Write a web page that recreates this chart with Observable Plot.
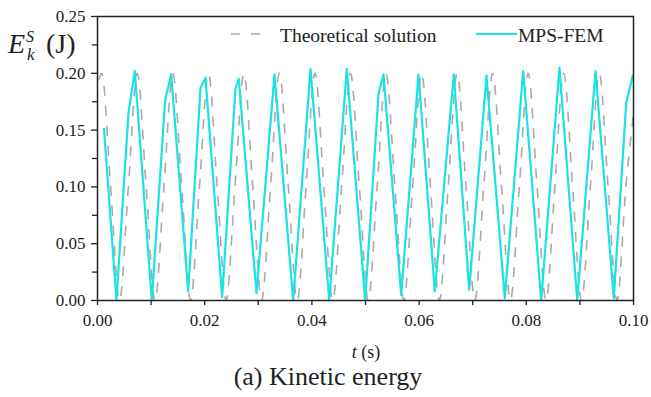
<!DOCTYPE html>
<html>
<head>
<meta charset="utf-8">
<script src="https://cdn.jsdelivr.net/npm/d3@7"></script>
<script src="https://cdn.jsdelivr.net/npm/@observablehq/plot@0.6"></script>
<style>
  html, body { margin: 0; padding: 0; background: #fff; }
  #wrap { position: relative; width: 651px; height: 397px; font-family: "Liberation Serif", "Times New Roman", serif; color: #222; }
  #overlay { position: absolute; left: 0; top: 0; pointer-events: none; }
  #caption { font-size: 26px; line-height: 29px; text-align: center; width: 651px; padding-left: 5px; box-sizing: border-box; }
</style>
</head>
<body>
<div id="wrap">
  <div id="chart"></div>
  <div id="caption">(a) Kinetic energy</div>
  <svg id="overlay" width="651" height="362" font-family="Liberation Serif, Times New Roman, serif" fill="#222">
    <text x="8" y="53" font-size="28" font-style="italic">E</text>
    <text x="26" y="42" font-size="16" font-style="italic">S</text>
    <text x="27" y="60" font-size="17" font-style="italic">k</text>
    <text x="46" y="53" font-size="28">(J)</text>
    <text x="366" y="358" font-size="18" text-anchor="middle"><tspan font-style="italic">t</tspan> (s)</text>
    <line x1="231" y1="34" x2="262" y2="34" stroke="#b0a6a6" stroke-width="1.6" stroke-dasharray="9,11"></line>
    <text x="280" y="41.5" font-size="19.5">Theoretical solution</text>
    <line x1="476" y1="34" x2="517" y2="34" stroke="#19e3e3" stroke-width="2.2"></line>
    <text x="518" y="41.5" font-size="19.5">MPS-FEM</text>
  </svg>
</div>
<script>
// Axis ticks
const xTicks = [0, 0.02, 0.04, 0.06, 0.08, 0.10];
const xMinorTicks = [0.01, 0.03, 0.05, 0.07, 0.09];
const yTicks = [0, 0.05, 0.10, 0.15, 0.20, 0.25];
const yMinorTicks = [0.025, 0.075, 0.125, 0.175, 0.225];

// MPS-FEM series (time in s, kinetic energy in J)
const mpsT = [0.00121, 0.00354, 0.00578, 0.00696, 0.01013, 0.01263, 0.01375, 0.01692, 0.01922, 0.02015,
              0.02326, 0.02575, 0.02636, 0.02966, 0.03302, 0.03651, 0.03974, 0.04323, 0.04651, 0.04994,
              0.05243, 0.05336, 0.05666, 0.05989, 0.06293, 0.06647, 0.06935, 0.07257, 0.07599, 0.07942,
              0.08278, 0.08619, 0.08950, 0.09291, 0.09632, 0.09864, 0.09987];
const mpsE = [0.151, 0, 0.165, 0.202, 0, 0.177, 0.199, 0.008, 0.187, 0.196,
              0.003, 0.187, 0.195, 0.0065, 0.199, 0, 0.204, 0, 0.204, 0,
              0.182, 0.199, 0.005, 0.199, 0.008, 0.199, 0.0095, 0.198, 0.002, 0.202,
              0, 0.205, 0, 0.202, 0.002, 0.174, 0.198];

// Theoretical solution series
const theoT = [0.0003, 0.00079, 0.00245, 0.00410, 0.00576, 0.00742, 0.00908, 0.01073, 0.01239, 0.01405,
               0.01571, 0.01736, 0.01902, 0.02068, 0.02234, 0.02399, 0.02565, 0.02731, 0.02897, 0.03062,
               0.03228, 0.03394, 0.03560, 0.03725, 0.03891, 0.04057, 0.04223, 0.04388, 0.04554, 0.04720,
               0.04886, 0.05051, 0.05217, 0.05383, 0.05549, 0.05714, 0.05880, 0.06046, 0.06212, 0.06377,
               0.06543, 0.06709, 0.06875, 0.07040, 0.07206, 0.07372, 0.07538, 0.07703, 0.07869, 0.08035,
               0.08201, 0.08366, 0.08532, 0.08698, 0.08864, 0.09029, 0.09195, 0.09361, 0.09527, 0.09692,
               0.09858, 0.1000];
const theoE = [0.195, 0.200, 0.100, 0, 0.100, 0.200, 0.100, 0, 0.100, 0.200,
               0.100, 0, 0.100, 0.200, 0.100, 0, 0.100, 0.200, 0.100, 0,
               0.100, 0.200, 0.100, 0, 0.100, 0.200, 0.100, 0, 0.100, 0.200,
               0.100, 0, 0.100, 0.200, 0.100, 0, 0.100, 0.200, 0.100, 0,
               0.100, 0.200, 0.100, 0, 0.100, 0.200, 0.100, 0, 0.100, 0.200,
               0.100, 0, 0.100, 0.200, 0.100, 0, 0.100, 0.200, 0.100, 0,
               0.100, 0.165];

const mps = mpsT.map((t, i) => ({t, e: mpsE[i]}));
const theo = theoT.map((t, i) => ({t, e: theoE[i]}));

const chart = Plot.plot({
  width: 651,
  height: 362,
  marginLeft: 97,
  marginRight: 18,
  marginTop: 16,
  marginBottom: 62,
  x: {domain: [0, 0.1]},
  y: {domain: [0, 0.25]},
  style: {
    fontFamily: "'Liberation Serif', 'Times New Roman', serif",
    fontSize: "17px",
    color: "#222",
    background: "white",
    overflow: "visible"
  },
  marks: [
    Plot.line(theo, {x: "t", y: "e", stroke: "#b0a6a6", strokeWidth: 1.6, strokeDasharray: "9,11", curve: "monotone-x"}),
    Plot.line(mps, {x: "t", y: "e", stroke: "#19e3e3", strokeWidth: 2.2}),
    Plot.frame({stroke: "#222", strokeWidth: 1.5}),
    Plot.axisX(xTicks, {tickFormat: d3.format(".2f"), tickSize: 5, tickPadding: 8, label: null, strokeWidth: 1.3}),
    Plot.axisX(xMinorTicks, {tickFormat: () => "", tickSize: 5, label: null, strokeWidth: 1.3}),
    Plot.axisY(yTicks, {tickFormat: d3.format(".2f"), tickSize: 6, tickPadding: 6, label: null, strokeWidth: 1.3}),
    Plot.axisY(yMinorTicks, {tickFormat: () => "", tickSize: 5, label: null, strokeWidth: 1.3})
  ]
});
document.getElementById("chart").appendChild(chart);
</script>
</body>
</html>
